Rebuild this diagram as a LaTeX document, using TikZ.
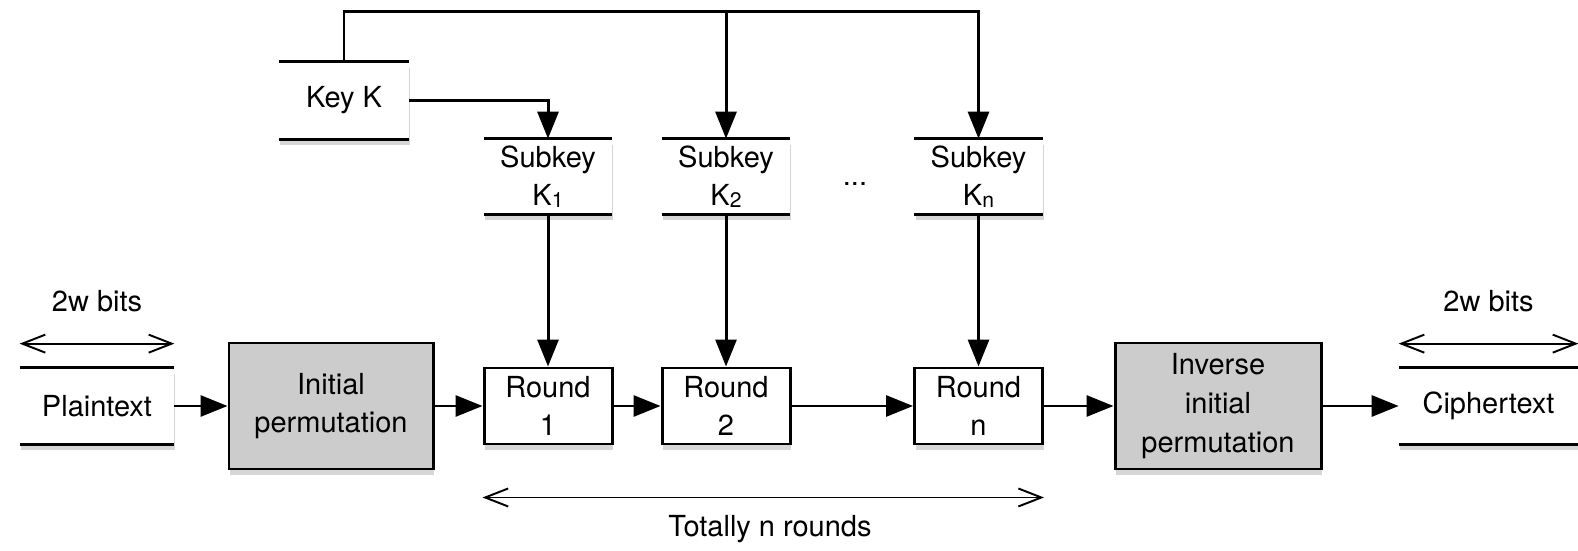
\documentclass[tikz,border=0pt]{standalone}
\usepackage{fontspec}
\setmainfont{TeX Gyre Heros}
\usepackage{xcolor}
\usetikzlibrary{arrows.meta, positioning, shadows}
\definecolor{permgray}{RGB}{204,204,204}
\newcommand{\subk}[1]{K\raisebox{-0.1ex}{\fontsize{12}{12}\selectfont #1}}
\newcommand{\storeedge}[1]{\draw[wire] (#1.north west) -- (#1.north east) (#1.south west) -- (#1.south east);}

\begin{document}
\begin{tikzpicture}[
    font=\fontsize{16.5}{22}\selectfont,
    wire/.style={line width=1.7pt},
    boxbase/.style={align=center, inner sep=0pt,
                    drop shadow={shadow xshift=0.02cm, shadow yshift=-0.12cm, opacity=0.32}},
    store/.style={boxbase, fill=white, minimum height=1.52cm},
    roundbox/.style={boxbase, draw, wire, fill=white,
                     minimum width=2.56cm, minimum height=1.52cm},
    permbox/.style={boxbase, draw, wire, fill=permgray, minimum height=2.52cm},
    arr/.style={wire, -{Triangle[length=0.54cm, width=0.42cm]}},
    widtharr/.style={line width=1.1pt,
                     {Straight Barb[length=0.46cm, width=0.36cm]}-{Straight Barb[length=0.46cm, width=0.36cm]}}
  ]
  \useasboundingbox (0,0) rectangle (31.56,11);

  \node[store, minimum width=3.08cm] (pt) at (1.94,2.88) {Plaintext};
  \node[permbox, minimum width=4.08cm] (ip) at (6.62,2.88) {Initial\\permutation};
  \node[roundbox] (r1) at (10.96,2.88) {Round\\1};
  \node[roundbox] (r2) at (14.52,2.88) {Round\\2};
  \node[roundbox] (rn) at (19.57,2.88) {Round\\n};
  \node[permbox, minimum width=4.12cm] (iip) at (24.36,2.88) {Inverse\\initial\\permutation};
  \node[store, minimum width=3.58cm] (ct) at (29.77,2.88) {Ciphertext};

  \node[store, minimum width=2.6cm, minimum height=1.54cm] (key) at (6.88,8.99) {Key K};
  \node[store, minimum width=2.56cm, minimum height=1.5cm] (sk1) at (10.96,7.47) {Subkey\\\subk{1}};
  \node[store, minimum width=2.56cm, minimum height=1.5cm] (sk2) at (14.52,7.47) {Subkey\\\subk{2}};
  \node[store, minimum width=2.56cm, minimum height=1.5cm] (skn) at (19.57,7.47) {Subkey\\\subk{n}};
  \node (dots) at (17.1,7.32) {...};

  \storeedge{pt}
  \storeedge{ct}
  \storeedge{key}
  \storeedge{sk1}
  \storeedge{sk2}
  \storeedge{skn}

  \draw[arr] (pt) -- (ip);
  \draw[arr] (ip) -- (r1);
  \draw[arr] (r1) -- (r2);
  \draw[arr] (r2) -- (rn);
  \draw[arr] (rn) -- (iip);
  \draw[arr] (iip) -- (ct);

  \draw[arr] (sk1) -- (r1);
  \draw[arr] (sk2) -- (r2);
  \draw[arr] (skn) -- (rn);

  \coordinate[above=1cm of key.north] (bus);
  \draw[arr] (key.east) -| (sk1.north);
  \draw[arr] (key.north) -- (bus) -| (skn.north);
  \draw[arr] (bus -| sk2) -- (sk2.north);

  \draw[widtharr] ([yshift=0.48cm]pt.north west) -- ([yshift=0.48cm]pt.north east);
  \node (bitsin) at ([yshift=1.32cm]pt.north) {2w bits};
  \draw[widtharr] ([yshift=0.48cm]ct.north west) -- ([yshift=0.48cm]ct.north east);
  \node (bitsout) at ([yshift=1.32cm]ct.north) {2w bits};

  \draw[widtharr] ([yshift=-1.04cm]r1.south west) -- ([yshift=-1.04cm]rn.south east);
  \node (total) at (15.4,0.42) {Totally n rounds};

\end{tikzpicture}
\end{document}
